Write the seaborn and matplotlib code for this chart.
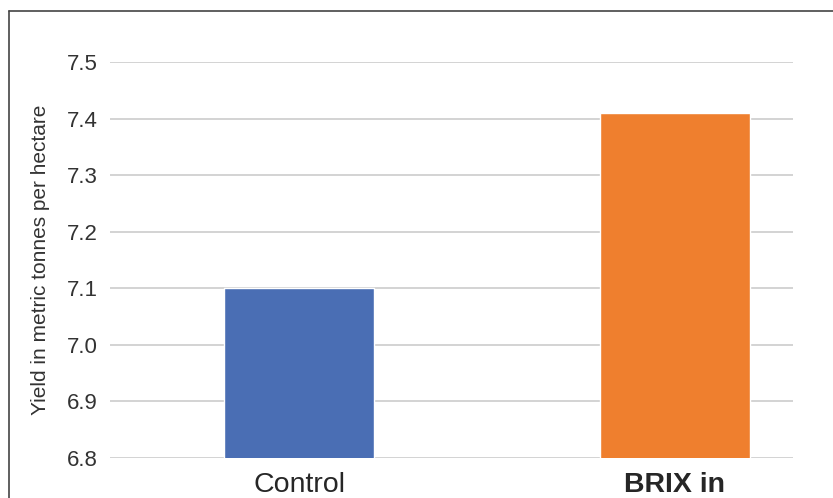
import pandas as pd
import matplotlib
matplotlib.use('Agg')
import matplotlib.pyplot as plt
import seaborn as sns
from matplotlib.lines import Line2D

categories = ['Control', 'BRIX in']
yields = [7.10, 7.41]
bar_colors = ['#4a6eb4', '#ef7f2e']
y_ticks = [6.8, 6.9, 7.0, 7.1, 7.2, 7.3, 7.4, 7.5]

sns.set_style('white')
plt.rcParams['font.family'] = ['Liberation Sans', 'DejaVu Sans']

df = pd.DataFrame({'group': categories, 'yield': yields})

fig = plt.figure(figsize=(8.33, 4.98), dpi=100)
ax = fig.add_axes([110 / 833, 40 / 498, 683 / 833, 396 / 498])

sns.barplot(data=df, x='group', y='yield', hue='group', palette=bar_colors,
            saturation=1, width=0.4, legend=False, ax=ax, zorder=3)

ax.set_ylim(6.8, 7.5)
ax.set_xlim(-0.503, 1.314)
ax.set_yticks(y_ticks)
ax.set_yticklabels([f'{t:.1f}' for t in y_ticks])
ax.yaxis.grid(True, color='#d0d0d0', linewidth=1.3, zorder=0)
ax.set_axisbelow(True)
for s in ax.spines.values():
    s.set_visible(False)
ax.tick_params(axis='y', length=0, pad=9, labelsize=16, labelcolor='#333333')
ax.tick_params(axis='x', length=0, pad=10, labelsize=20.5, labelcolor='#262626')
for lbl in ax.get_xticklabels():
    if lbl.get_text() == 'BRIX in':
        lbl.set_fontweight('bold')
ax.set_xlabel('')
ax.set_ylabel('Yield in metric tonnes per hectare', fontsize=15, color='#333333', labelpad=12)

# frame lines of the original image (top and left only)
fig.add_artist(Line2D([9 / 833, 1.0], [1 - 11 / 498, 1 - 11 / 498], color='#444444', linewidth=1.2))
fig.add_artist(Line2D([9 / 833, 9 / 833], [0, 1 - 11 / 498], color='#444444', linewidth=1.2))

fig.savefig('out.png', dpi=100)
